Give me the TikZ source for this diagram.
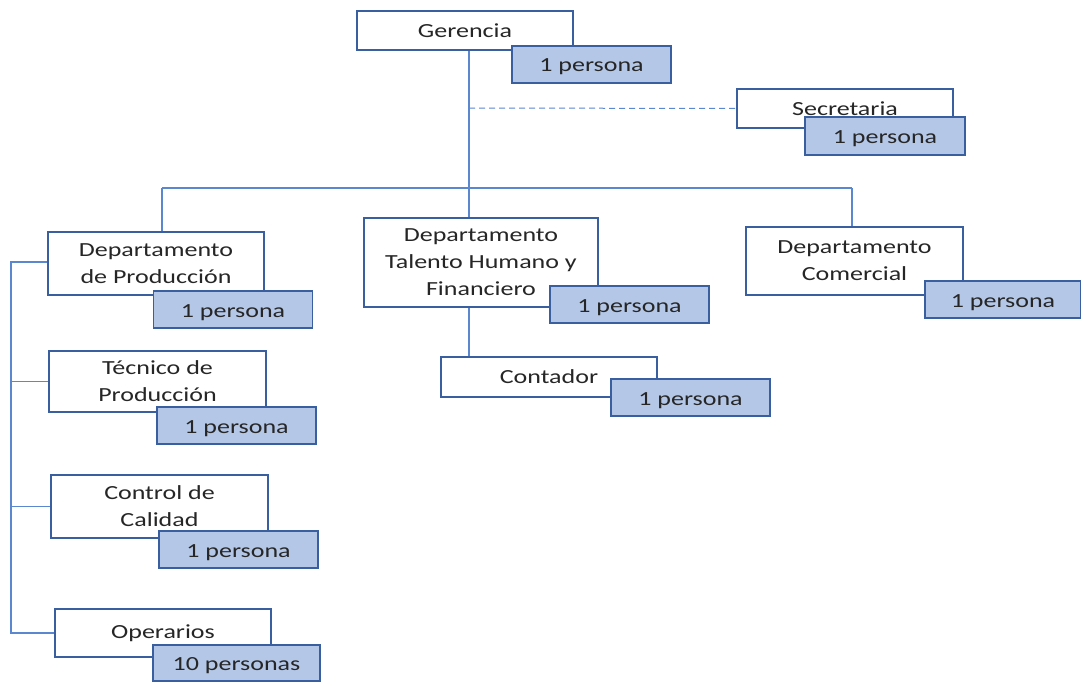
\documentclass[tikz,border=0pt]{standalone}
\usepackage{fontspec}
\setmainfont[FakeStretch=1.3]{Carlito}
\definecolor{boxedge}{HTML}{3A5FA0}
\definecolor{linkblue}{HTML}{5B86D0}
\definecolor{countfill}{HTML}{B4C7E7}
\definecolor{ink}{HTML}{262626}
\begin{document}
\begin{tikzpicture}[x=1pt,y=-1pt,
  unit/.style={draw=boxedge,line width=1.3pt,fill=white,inner sep=0pt,
    align=center,text=ink,font=\fontsize{20}{27}\selectfont},
  count/.style={draw=boxedge,line width=1.3pt,fill=countfill,inner sep=0pt,
    minimum width=159pt,minimum height=37pt,text height=15pt,text depth=0pt,text=ink,
    font=\fontsize{20}{27}\selectfont},
  link/.style={draw=linkblue,line width=1.3pt}]
\useasboundingbox (0,0) rectangle (1081,682);

% top level
\node[unit,minimum width=216pt,minimum height=39pt] (ger) at (465,30.5) {Gerencia};
\node[count] (gerc) at (591.5,64.5) {1 persona};

% trunk and staff position
\coordinate (trunk) at (469,188);
\coordinate (staff) at (469,108);
\node[unit,minimum width=216pt,minimum height=39pt] (sec) at (845,108.5) {Secretaria};
\node[count,minimum width=160pt,minimum height=38pt] (secc) at (885,136) {1 persona};

% departments
\node[unit,minimum width=216pt,minimum height=63pt] (prod) at (156,263.5) {Departamento\\de Producción};
\node[unit,minimum width=234pt,minimum height=89pt] (tal) at (481,262.5) {Departamento\\Talento Humano y\\Financiero};
\node[unit,minimum width=217pt,minimum height=68pt] (com) at (854.5,261) {Departamento\\Comercial};

% staff under departments
\node[unit,minimum width=216pt,minimum height=40pt] (cont) at (549,377) {Contador};
\node[unit,minimum width=217pt,minimum height=61pt] (tec) at (157.5,381.5) {Técnico de\\Producción};
\node[unit,minimum width=217pt,minimum height=63pt] (cal) at (159.5,506.5) {Control de\\Calidad};
\node[unit,minimum width=216pt,minimum height=48pt] (ope) at (163,633) {Operarios};

% connectors
\draw[link] (trunk |- ger.south) -- (trunk);
\draw[link,line width=1pt,dash pattern=on 6pt off 4pt] (staff) -- (sec.west);
\coordinate (barL) at (162,188);
\coordinate (barR) at (852,188);
\draw[link] (barL) -- (barR);
\draw[link] (barL) -- (barL |- prod.north);
\draw[link] (trunk) -- (trunk |- tal.north);
\draw[link] (barR) -- (barR |- com.north);
\draw[link] (trunk |- tal.south) -- (trunk |- cont.north);

\coordinate (rail) at (11,262);
\draw[link] (prod.west |- rail) -- (rail) -- (rail |- ope.west) -- (ope.west);
\draw[link] (rail |- tec.west) -- (tec.west);
\draw[link] (rail |- cal.west) -- (cal.west);

% head-count tags
\node[count] (prodc) at (233,309.5) {1 persona};
\node[count] (talc) at (629.5,304.5) {1 persona};
\node[count,minimum width=156pt] (comc) at (1003,299.5) {1 persona};
\node[count] (contc) at (690.5,397.5) {1 persona};
\node[count] (tecc) at (236.5,425.5) {1 persona};
\node[count] (calc) at (238.5,549.5) {1 persona};
\node[count,minimum width=167pt,minimum height=36pt] (opec) at (236.5,663) {10 personas};
\end{tikzpicture}
\end{document}
